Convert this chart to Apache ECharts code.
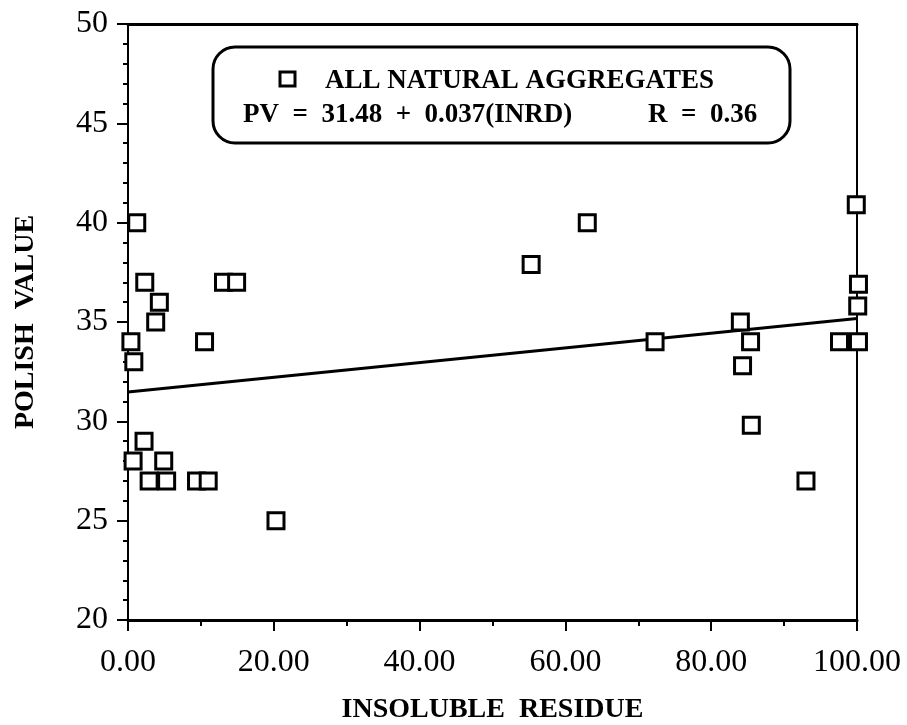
<!DOCTYPE html>
<html>
<head>
<meta charset="utf-8">
<title>Polish value vs insoluble residue</title>
<script src="https://cdn.jsdelivr.net/npm/echarts@6/dist/echarts.min.js"></script>
<style>
  html, body { margin: 0; padding: 0; background: #fff; }
  #chart { width: 907px; height: 725px; }
</style>
</head>
<body>
<div id="chart"></div>
<script>
// insoluble residue (%) and polish value for each aggregate
const residue = [1.2, 2.3, 4.3, 3.8, 0.4, 10.5, 13.1, 14.9, 0.8, 2.2, 0.7, 4.9, 2.9, 5.3, 9.4, 11.0, 20.3,
  55.3, 63.0, 72.3, 84.0, 84.3, 85.4, 85.5, 93.0, 97.6, 100.2, 99.9, 100.2, 100.1]
const polish = [40, 37, 36, 35, 34, 34, 37, 37, 33, 29, 28, 28, 27, 27, 27, 27, 25,
  37.9, 40, 34, 35, 32.8, 34, 29.8, 27, 34, 34, 40.9, 36.9, 35.8]
// regression line PV = 31.48 + 0.037(INRD), end points
const fitX = [0, 100]
const fitY = [31.48, 35.18]

const xTicks = [0, 20, 40, 60, 80, 100]
const yTicks = [20, 25, 30, 35, 40, 45, 50]

const serif = '"Liberation Serif", "Times New Roman", serif'

const chart = echarts.init(document.getElementById('chart'))
const option = {
  backgroundColor: '#fff',
  animation: false,
  grid: { left: 128, right: 50, top: 24, bottom: 105, outerBoundsMode: 'none' },
  xAxis: [
    {
      type: 'value',
      min: xTicks[0],
      max: xTicks[xTicks.length - 1],
      interval: 20,
      name: 'INSOLUBLE  RESIDUE',
      nameLocation: 'middle',
      nameGap: 76,
      nameTextStyle: { fontFamily: serif, fontWeight: 'bold', fontSize: 28, color: '#000' },
      axisLine: { show: true, lineStyle: { color: '#000', width: 3 } },
      axisTick: { show: true, inside: false, length: 11, lineStyle: { color: '#000', width: 2 } },
      minorTick: { show: true, splitNumber: 2, length: 6, lineStyle: { color: '#000', width: 2 } },
      axisLabel: {
        margin: 27,
        fontFamily: serif,
        fontSize: 32,
        color: '#000',
        formatter: (v) => v.toFixed(2)
      },
      splitLine: { show: false }
    },
    {
      type: 'value',
      position: 'top',
      min: 0,
      max: 100,
      axisLine: { show: true, onZero: false, lineStyle: { color: '#000', width: 3 } },
      axisTick: { show: false },
      axisLabel: { show: false },
      splitLine: { show: false }
    }
  ],
  yAxis: [
    {
      type: 'value',
      min: yTicks[0],
      max: yTicks[yTicks.length - 1],
      interval: 5,
      name: 'POLISH  VALUE',
      nameLocation: 'middle',
      nameGap: 88,
      nameTextStyle: { fontFamily: serif, fontWeight: 'bold', fontSize: 28, color: '#000' },
      axisLine: { show: true, lineStyle: { color: '#000', width: 2 } },
      axisTick: { show: true, inside: false, length: 11, lineStyle: { color: '#000', width: 2 } },
      minorTick: { show: true, splitNumber: 5, length: 5, lineStyle: { color: '#000', width: 2 } },
      axisLabel: { margin: 20, fontFamily: serif, fontSize: 32, color: '#000' },
      splitLine: { show: false }
    },
    {
      type: 'value',
      position: 'right',
      min: 20,
      max: 50,
      axisLine: { show: true, onZero: false, lineStyle: { color: '#000', width: 2 } },
      axisTick: { show: false },
      axisLabel: { show: false },
      splitLine: { show: false }
    }
  ],
  series: [
    {
      name: 'PV fit',
      type: 'line',
      symbol: 'none',
      silent: true,
      lineStyle: { color: '#000', width: 3 },
      data: fitX.map((x, i) => [x, fitY[i]]),
      z: 2
    },
    {
      name: 'ALL NATURAL AGGREGATES',
      type: 'scatter',
      symbol: 'rect',
      symbolSize: 16,
      clip: false,
      itemStyle: { color: '#fff', borderColor: '#000', borderWidth: 3, opacity: 1 },
      data: residue.map((x, i) => [x, polish[i]]),
      z: 3
    }
  ],
  graphic: [
    {
      type: 'rect',
      shape: { x: 213, y: 47, width: 577, height: 96, r: 22 },
      style: { fill: '#fff', stroke: '#000', lineWidth: 3 },
      z: 10
    },
    {
      type: 'rect',
      shape: { x: 280, y: 72, width: 15, height: 14 },
      style: { fill: '#fff', stroke: '#000', lineWidth: 3 },
      z: 11
    },
    {
      type: 'text',
      left: 325,
      top: 68,
      style: { text: 'ALL NATURAL AGGREGATES', font: 'bold 27px ' + serif, fill: '#000' },
      z: 11
    },
    {
      type: 'text',
      left: 243,
      top: 102,
      style: { text: 'PV  =  31.48  +  0.037(INRD)', font: 'bold 27px ' + serif, fill: '#000' },
      z: 11
    },
    {
      type: 'text',
      left: 648,
      top: 102,
      style: { text: 'R  =  0.36', font: 'bold 27px ' + serif, fill: '#000' },
      z: 11
    }
  ]
}
chart.setOption(option)
</script>
</body>
</html>
